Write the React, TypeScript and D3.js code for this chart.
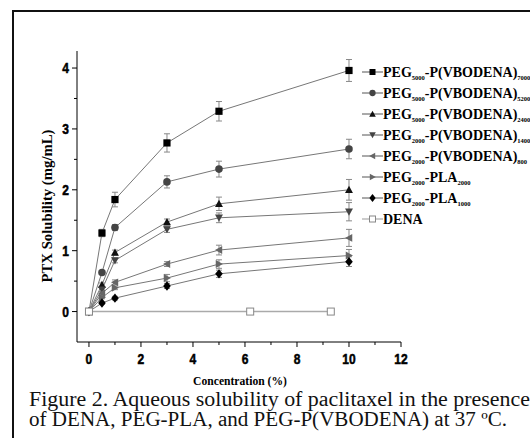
import React from 'react';
import * as d3 from 'd3';

// concentration (%) values shared by the polymer series
const concentrations = [0, 0.5, 1, 3, 5, 10];

const peg5000Vb7000 = [0, 1.29, 1.84, 2.77, 3.29, 3.96];
const peg5000Vb7000Err = [0, 0.06, 0.12, 0.15, 0.16, 0.18];
const peg5000Vb5200 = [0, 0.64, 1.38, 2.13, 2.34, 2.67];
const peg5000Vb5200Err = [0, 0.03, 0.05, 0.1, 0.13, 0.16];
const peg5000Vb2400 = [0, 0.44, 0.97, 1.47, 1.77, 2.0];
const peg5000Vb2400Err = [0, 0.03, 0.04, 0.05, 0.11, 0.17];
const peg2000Vb1400 = [0, 0.36, 0.84, 1.35, 1.54, 1.64];
const peg2000Vb1400Err = [0, 0.03, 0.04, 0.05, 0.08, 0.15];
const peg2000Vb800 = [0, 0.3, 0.48, 0.78, 1.01, 1.21];
const peg2000Vb800Err = [0, 0.03, 0.04, 0.04, 0.08, 0.14];
const peg2000Pla2000 = [0, 0.23, 0.39, 0.55, 0.78, 0.92];
const peg2000Pla2000Err = [0, 0.02, 0.03, 0.06, 0.07, 0.1];
const peg2000Pla1000 = [0, 0.14, 0.22, 0.42, 0.62, 0.82];
const peg2000Pla1000Err = [0, 0.02, 0.03, 0.04, 0.06, 0.08];

const denaX = [0, 6.2, 9.3];
const denaY = [0, 0, 0];

// legend: [PEG subscript, block name, block subscript]
const legendParts: [string, string, string][] = [
  ['5000', '-P(VBODENA)', '7000'],
  ['5000', '-P(VBODENA)', '5200'],
  ['5000', '-P(VBODENA)', '2400'],
  ['2000', '-P(VBODENA)', '1400'],
  ['2000', '-P(VBODENA)', '800'],
  ['2000', '-PLA', '2000'],
  ['2000', '-PLA', '1000'],
];

const xTicks = [0, 2, 4, 6, 8, 10, 12];
const xMinor = [1, 3, 5, 7, 9, 11];
const yTicks = [0, 1, 2, 3, 4];
const yMinor = [0.5, 1.5, 2.5, 3.5];

type Sym = 'square' | 'circle' | 'up' | 'down' | 'left' | 'right' | 'diamond';

const series: { y: number[]; err: number[]; sym: Sym; color: string }[] = [
  { y: peg5000Vb7000, err: peg5000Vb7000Err, sym: 'square', color: '#000' },
  { y: peg5000Vb5200, err: peg5000Vb5200Err, sym: 'circle', color: '#444' },
  { y: peg5000Vb2400, err: peg5000Vb2400Err, sym: 'up', color: '#111' },
  { y: peg2000Vb1400, err: peg2000Vb1400Err, sym: 'down', color: '#444' },
  { y: peg2000Vb800, err: peg2000Vb800Err, sym: 'left', color: '#666' },
  { y: peg2000Pla2000, err: peg2000Pla2000Err, sym: 'right', color: '#666' },
  { y: peg2000Pla1000, err: peg2000Pla1000Err, sym: 'diamond', color: '#000' },
];

const symPath = (s: Sym, r: number) => {
  switch (s) {
    case 'square':
      return `M${-r},${-r}h${2 * r}v${2 * r}h${-2 * r}Z`;
    case 'circle':
      return d3.symbol(d3.symbolCircle, Math.PI * r * r * 1.1)() as string;
    case 'up':
      return `M0,${-r * 1.1}L${r * 1.1},${r * 0.9}L${-r * 1.1},${r * 0.9}Z`;
    case 'down':
      return `M0,${r * 1.1}L${r * 1.1},${-r * 0.9}L${-r * 1.1},${-r * 0.9}Z`;
    case 'left':
      return `M${-r * 1.1},0L${r * 0.9},${-r * 1.1}L${r * 0.9},${r * 1.1}Z`;
    case 'right':
      return `M${r * 1.1},0L${-r * 0.9},${-r * 1.1}L${-r * 0.9},${r * 1.1}Z`;
    case 'diamond':
      return `M0,${-r * 1.3}L${r * 1.05},0L0,${r * 1.3}L${-r * 1.05},0Z`;
  }
};

const App = () => {
  const x = d3.scaleLinear().domain([-0.46, 12]).range([77, 401]);
  const y = d3.scaleLinear().domain([-0.5, 4.28]).range([342, 51]);
  const line = d3
    .line<[number, number]>()
    .x((d) => x(d[0]))
    .y((d) => y(d[1]));

  const tickFont = "'Liberation Sans', Arial, sans-serif";
  const serif = "'Liberation Serif', 'Times New Roman', serif";
  const narrow = (cx: number) => `translate(${cx},0) scale(0.86,1) translate(${-cx},0)`;

  return (
    <svg
      width={530}
      height={438}
      style={{ position: 'absolute', left: 0, top: 0, background: '#fff' }}
    >
      <rect x={13} y={11} width={540} height={440} fill="#fff" stroke="#111" strokeWidth={2} />

      {/* axes */}
      <line x1={x.range()[0]} x2={x.range()[0]} y1={y.range()[1]} y2={y.range()[0]} stroke="#000" />
      <line x1={x.range()[0]} x2={x.range()[1]} y1={y.range()[0]} y2={y.range()[0]} stroke="#000" />
      {xTicks.map((t) => (
        <g key={'xt' + t}>
          <line x1={x(t)} x2={x(t)} y1={342} y2={347} stroke="#000" />
          <text
            x={x(t)}
            y={364}
            textAnchor="middle"
            fontFamily={tickFont}
            fontWeight="bold"
            fontSize={14}
            stroke="#000"
            strokeWidth={0.5}
            transform={narrow(x(t))}
          >
            {t}
          </text>
        </g>
      ))}
      {xMinor.map((t) => (
        <line key={'xm' + t} x1={x(t)} x2={x(t)} y1={342} y2={345} stroke="#000" />
      ))}
      {yTicks.map((t) => (
        <g key={'yt' + t}>
          <line x1={72} x2={77} y1={y(t)} y2={y(t)} stroke="#000" />
          <text
            x={69}
            y={y(t) + 5}
            textAnchor="end"
            fontFamily={tickFont}
            fontWeight="bold"
            fontSize={14}
            stroke="#000"
            strokeWidth={0.5}
            transform={narrow(69)}
          >
            {t}
          </text>
        </g>
      ))}
      {yMinor.map((t) => (
        <line key={'ym' + t} x1={74} x2={77} y1={y(t)} y2={y(t)} stroke="#000" />
      ))}

      <text
        transform={`translate(52,${206}) rotate(-90) scale(0.95,1)`}
        textAnchor="middle"
        fontFamily={serif}
        fontWeight="bold"
        fontSize={15.5}
      >
        PTX Solubility (mg/mL)
      </text>
      <text
        x={240}
        y={385}
        textAnchor="middle"
        fontFamily={serif}
        fontWeight="bold"
        fontSize={13.5}
        transform={narrow(240)}
      >
        Concentration (%)
      </text>

      {/* DENA */}
      <path
        d={line(denaX.map((v, i) => [v, denaY[i]]) as [number, number][]) || ''}
        fill="none"
        stroke="#aaa"
        strokeWidth={1.5}
      />

      {/* series lines */}
      {series.map((s, i) => (
        <path
          key={'l' + i}
          d={line(concentrations.map((c, j) => [c, s.y[j]]) as [number, number][]) || ''}
          fill="none"
          stroke="#777"
          strokeWidth={1}
        />
      ))}
      {/* error bars */}
      {series.map((s, i) =>
        concentrations.map((c, j) =>
          s.err[j] > 0 ? (
            <g key={`e${i}-${j}`} stroke="#888" strokeWidth={1}>
              <line x1={x(c)} x2={x(c)} y1={y(s.y[j] - s.err[j])} y2={y(s.y[j] + s.err[j])} />
              <line x1={x(c) - 3} x2={x(c) + 3} y1={y(s.y[j] - s.err[j])} y2={y(s.y[j] - s.err[j])} />
              <line x1={x(c) - 3} x2={x(c) + 3} y1={y(s.y[j] + s.err[j])} y2={y(s.y[j] + s.err[j])} />
            </g>
          ) : null
        )
      )}
      {/* markers */}
      {series.map((s, i) =>
        concentrations.map((c, j) => (
          <path
            key={`m${i}-${j}`}
            d={symPath(s.sym, 3.6)}
            transform={`translate(${x(c)},${y(s.y[j])})`}
            fill={s.color}
          />
        ))
      )}
      {denaX.map((v, i) => (
        <rect
          key={'d' + i}
          x={x(v) - 3.5}
          y={y(denaY[i]) - 3.5}
          width={7}
          height={7}
          fill="#fff"
          stroke="#888"
        />
      ))}

      {/* legend */}
      {series.map((s, i) => {
        const ly = 72 + i * 21;
        const [peg, block, sub] = legendParts[i];
        return (
          <g key={'lg' + i}>
            <line x1={362} x2={383} y1={ly} y2={ly} stroke="#555" />
            <path d={symPath(s.sym, 3)} transform={`translate(372.5,${ly})`} fill={s.color} />
            <text x={383} y={ly + 5} fontFamily={serif} fontWeight="bold" fontSize={14}>
              PEG
              <tspan fontSize={6.5} dy={3}>
                {peg}
              </tspan>
              <tspan dy={-3}>{block}</tspan>
              <tspan fontSize={6.5} dy={3}>
                {sub}
              </tspan>
            </text>
          </g>
        );
      })}
      <g>
        <line x1={362} x2={383} y1={219} y2={219} stroke="#999" />
        <rect x={369.5} y={216} width={6} height={6} fill="#fff" stroke="#888" />
        <text x={383} y={224} fontFamily={serif} fontWeight="bold" fontSize={14}>
          DENA
        </text>
      </g>

      {/* caption */}
      <text
        x={29}
        y={406}
        fontFamily={serif}
        fontSize={20}
        fill="#111"
        textLength={501}
        lengthAdjust="spacingAndGlyphs"
      >
        Figure 2. Aqueous solubility of paclitaxel in the presence
      </text>
      <text
        x={29}
        y={426}
        fontFamily={serif}
        fontSize={20}
        fill="#111"
        textLength={478}
        lengthAdjust="spacingAndGlyphs"
      >
        of DENA, PEG-PLA, and PEG-P(VBODENA) at 37 ºC.
      </text>
    </svg>
  );
};

export default App;
